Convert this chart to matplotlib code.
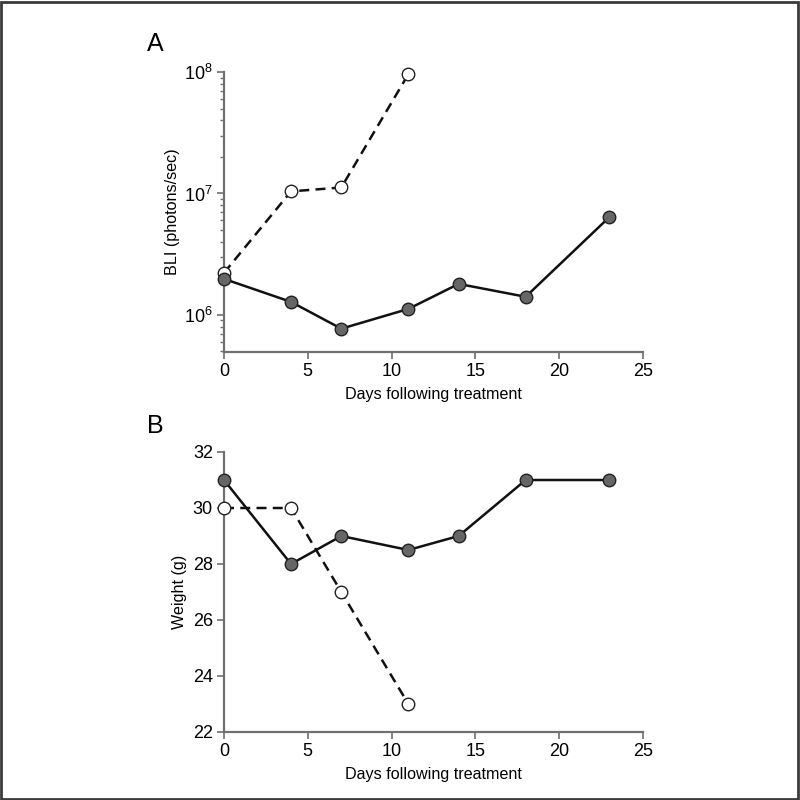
import matplotlib
matplotlib.use("Agg")
import matplotlib.pyplot as plt
from matplotlib.patches import Rectangle
from matplotlib.ticker import LogLocator, NullFormatter

plt.rcParams['font.family'] = ['Liberation Sans', 'DejaVu Sans']
plt.rcParams['mathtext.fontset'] = 'custom'
plt.rcParams['mathtext.rm'] = 'Liberation Sans'
plt.rcParams['mathtext.it'] = 'Liberation Sans'

days_treated = [0, 4, 7, 11, 14, 18, 23]
days_control = [0, 4, 7, 11]
bli_treated = [1.98e6, 1.28e6, 7.7e5, 1.12e6, 1.8e6, 1.41e6, 6.4e6]
bli_control = [2.22e6, 1.04e7, 1.12e7, 9.6e7]
weight_treated = [31, 28, 29, 28.5, 29, 31, 31]
weight_control = [30, 30, 27, 23]
x_ticks = [0, 5, 10, 15, 20, 25]
weight_ticks = [22, 24, 26, 28, 30, 32]

spine_color = '#707070'
fig = plt.figure(figsize=(8, 8), dpi=100)
fig.patches.append(Rectangle((0.001, 0.001), 0.996, 0.997, transform=fig.transFigure,
                             fill=False, edgecolor='#3a3a3a', linewidth=2.0))

axA = fig.add_axes([0.28, 0.56, 0.52375, 0.35])
axB = fig.add_axes([0.28, 0.085, 0.52375, 0.35])

def style(ax):
    for s in ['top', 'right']:
        ax.spines[s].set_visible(False)
    for s in ['left', 'bottom']:
        ax.spines[s].set_color(spine_color)
        ax.spines[s].set_linewidth(1.6)
    ax.tick_params(which='major', direction='out', length=5, width=1.2, color=spine_color,
                   labelsize=13, pad=3)
    ax.tick_params(which='minor', direction='out', length=3, width=1.0, color=spine_color)
    ax.set_xlim(0, 25)
    ax.set_xticks(x_ticks)
    ax.set_xlabel('Days following treatment', fontsize=11.6, labelpad=5)

mk = dict(marker='o', markersize=9, markeredgecolor='#222222', markeredgewidth=1.0, clip_on=False)

# Panel A
axA.plot(days_control, bli_control, linestyle='--', color='#111111', linewidth=1.8,
         markerfacecolor='white', dashes=(4, 2.5), zorder=3, **mk)
axA.plot(days_treated, bli_treated, linestyle='-', color='#111111', linewidth=1.8,
         markerfacecolor='#666666', zorder=4, **mk)
axA.set_yscale('log')
axA.set_ylim(4.95e5, 1e8)
axA.yaxis.set_major_locator(LogLocator(base=10, numticks=10))
axA.yaxis.set_minor_locator(LogLocator(base=10, subs=range(2, 10), numticks=20))
axA.yaxis.set_minor_formatter(NullFormatter())
style(axA)
axA.set_ylabel('BLI (photons/sec)', fontsize=11.6, labelpad=3)
fig.text(0.184, 0.945, 'A', fontsize=18, ha='left', va='center')

# Panel B
axB.plot(days_treated, weight_treated, linestyle='-', color='#111111', linewidth=1.8,
         markerfacecolor='#666666', zorder=3, **mk)
axB.plot(days_control, weight_control, linestyle='--', color='#111111', linewidth=1.8,
         markerfacecolor='white', dashes=(4, 2.5), zorder=4, **mk)
axB.set_ylim(22, 32)
axB.set_yticks(weight_ticks)
style(axB)
axB.set_ylabel('Weight (g)', fontsize=11.6, labelpad=4)
fig.text(0.184, 0.468, 'B', fontsize=18, ha='left', va='center')

fig.savefig('out.png', dpi=100)
